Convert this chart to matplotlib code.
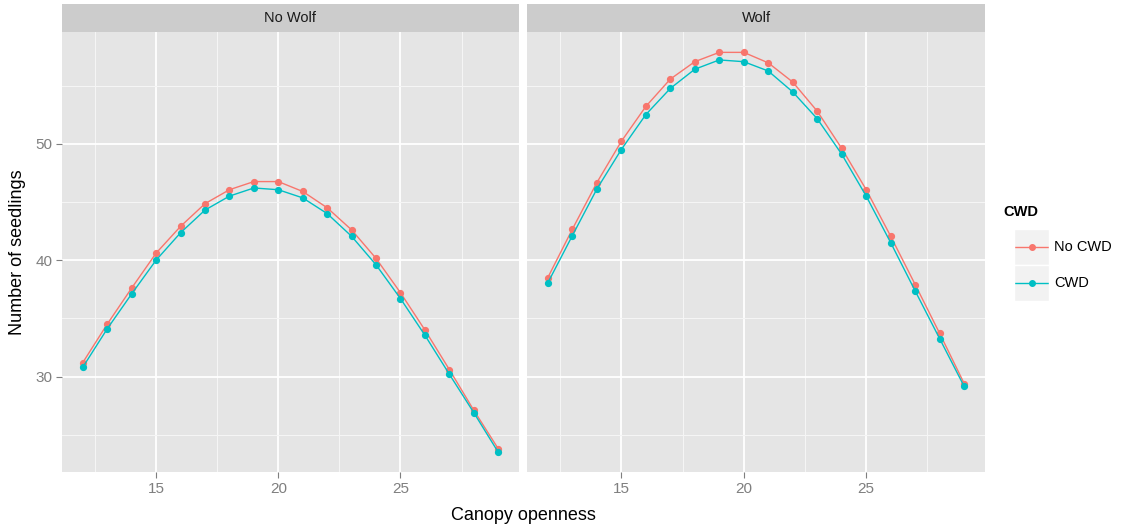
import numpy as np
import matplotlib
matplotlib.use("Agg")
import matplotlib.pyplot as plt
from matplotlib.lines import Line2D

# canopy openness values and model predictions
canopy = [12, 13, 14, 15, 16, 17, 18, 19, 20, 21, 22, 23, 24, 25, 26, 27, 28, 29]

nowolf_nocwd = [31.2, 34.5, 37.6, 40.6, 42.9, 44.85, 46.05, 46.75, 46.75, 45.9,
                44.5, 42.6, 40.15, 37.2, 34.0, 30.6, 27.1, 23.8]
nowolf_cwd = [30.8, 34.1, 37.1, 40.0, 42.35, 44.3, 45.5, 46.2, 46.05, 45.35,
              44.0, 42.05, 39.6, 36.7, 33.55, 30.2, 26.9, 23.5]
wolf_nocwd = [38.5, 42.65, 46.65, 50.2, 53.2, 55.55, 57.05, 57.85, 57.85, 56.95,
              55.3, 52.8, 49.6, 46.05, 42.05, 37.9, 33.7, 29.4]
wolf_cwd = [38.05, 42.1, 46.1, 49.5, 52.5, 54.75, 56.4, 57.2, 57.05, 56.25,
            54.45, 52.15, 49.1, 45.5, 41.5, 37.35, 33.25, 29.15]

panels = ["No Wolf", "Wolf"]
series_labels = ["No CWD", "CWD"]
colors = ["#F8766D", "#00BFC4"]

W, H = 1124, 529
fig = plt.figure(figsize=(W / 100, H / 100), dpi=100)
plt.rcParams["font.family"] = ["Liberation Sans", "DejaVu Sans"]


def px_axes(x0, y0, x1, y1):
    # pixel box (top-left origin) -> figure coords
    return fig.add_axes([x0 / W, 1 - y1 / H, (x1 - x0) / W, (y1 - y0) / H])


panel_boxes = [(62, 32, 519, 472), (527, 32, 985, 472)]
strip_h = 28
data = [(nowolf_nocwd, nowolf_cwd), (wolf_nocwd, wolf_cwd)]

xlim = (11.15, 29.85)
ylim = (21.8, 59.6)

for i, (name, box, (ys_a, ys_b)) in enumerate(zip(panels, panel_boxes, data)):
    x0, y0, x1, y1 = box
    ax = px_axes(x0, y0, x1, y1)
    ax.set_facecolor("#E5E5E5")
    for s in ax.spines.values():
        s.set_visible(False)
    ax.set_xlim(*xlim)
    ax.set_ylim(*ylim)
    ax.set_xticks([15, 20, 25])
    ax.set_xticks([12.5, 17.5, 22.5, 27.5], minor=True)
    ax.set_yticks([30, 40, 50])
    ax.set_yticks([25, 35, 45, 55], minor=True)
    ax.grid(which="major", color="white", lw=1.3)
    ax.grid(which="minor", color="#F5F5F5", lw=0.8)
    ax.set_axisbelow(True)
    ax.tick_params(which="major", length=4, color="#7F7F7F", labelcolor="#7F7F7F",
                   labelsize=11, pad=3)
    ax.tick_params(which="minor", length=0)
    if i > 0:
        ax.tick_params(axis="y", which="major", length=0, labelleft=False)

    for ys, c in zip((ys_a, ys_b), colors):
        ax.plot(canopy, ys, color=c, lw=1.0, marker="o", ms=4.2, mec=c, zorder=3)

    sax = px_axes(x0, 4, x1, 4 + strip_h)
    sax.set_facecolor("#CCCCCC")
    sax.set_xticks([])
    sax.set_yticks([])
    for s in sax.spines.values():
        s.set_visible(False)
    sax.text(0.5, 0.5, name, ha="center", va="center", fontsize=10.5, color="#1A1A1A",
             transform=sax.transAxes)

fig.text(523 / W, 1 - 516 / H, "Canopy openness", ha="center", va="center", fontsize=13)
fig.text(18 / W, 1 - 252 / H, "Number of seedlings", ha="center", va="center",
         rotation=90, fontsize=13)

# legend
fig.text(1003 / W, 1 - 212 / H, "CWD", ha="left", va="center", fontsize=10.5,
         fontweight="bold")
key_top = 229
key_h = 36
for j, (lab, c) in enumerate(zip(series_labels, colors)):
    ky0 = key_top + j * key_h
    kax = px_axes(1014, ky0, 1049, ky0 + key_h)
    kax.set_facecolor("#F2F2F2")
    kax.set_xlim(0, 1)
    kax.set_ylim(0, 1)
    kax.set_xticks([])
    kax.set_yticks([])
    for s in kax.spines.values():
        s.set_color("white")
        s.set_linewidth(1)
    kax.add_line(Line2D([0.03, 0.97], [0.5, 0.5], color=c, lw=1.0))
    kax.plot([0.5], [0.5], marker="o", color=c, ms=4)
    fig.text(1054 / W, 1 - (ky0 + key_h / 2) / H, lab, ha="left", va="center",
             fontsize=10.5)

fig.savefig("out.png", dpi=100, facecolor="white")
